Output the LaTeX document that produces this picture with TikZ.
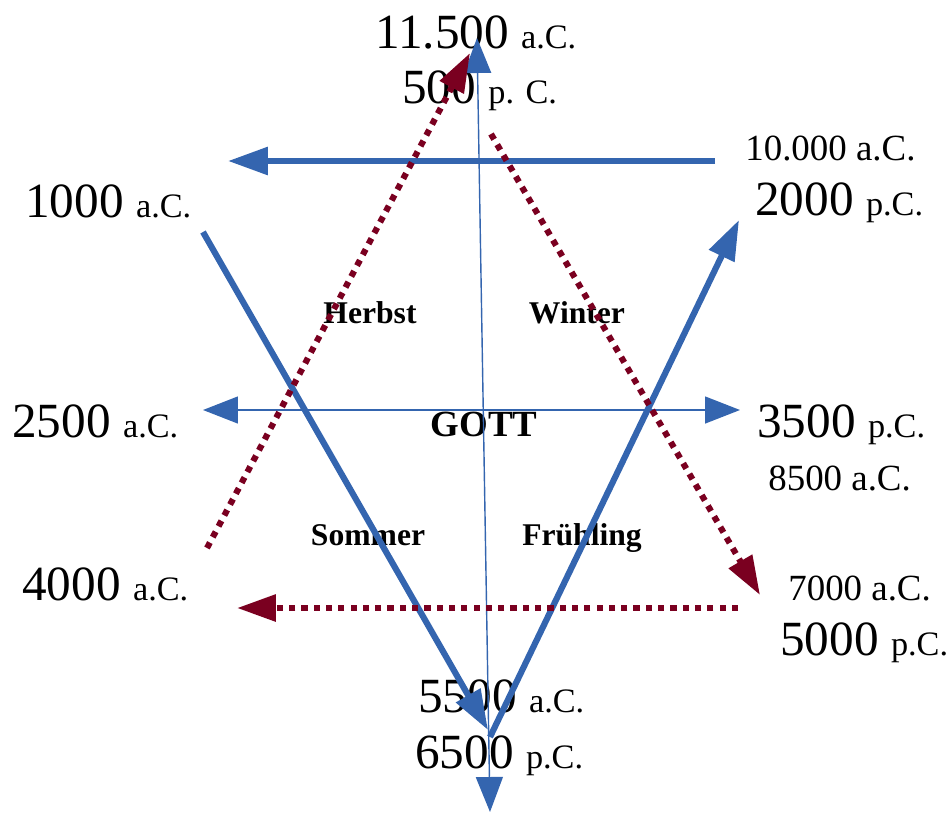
\documentclass[tikz,border=0pt]{standalone}
\usepackage{fontspec}
\setmainfont{Liberation Serif}
\usetikzlibrary{arrows.meta}
\definecolor{StarBlue}{RGB}{52,101,175}
\definecolor{StarRed}{RGB}{122,0,32}
\newcommand{\yearfont}{\fontsize{28}{30}\selectfont}
\newcommand{\erafont}{\fontsize{19.5}{21}\selectfont}
\newcommand{\minorfont}{\fontsize{21}{23}\selectfont}
\newcommand{\seasonfont}{\fontsize{18}{20}\selectfont\bfseries}
\newcommand{\centrefont}{\fontsize{21}{23}\selectfont\bfseries}

\begin{document}
\begin{tikzpicture}[x=0.02cm,y=-0.02cm,
  yearlbl/.style={font=\yearfont,anchor=base west,inner sep=0pt},
  minorlbl/.style={font=\minorfont,anchor=base west,inner sep=0pt},
  seasonlbl/.style={font=\seasonfont,anchor=base,inner sep=0pt},
  thinaxis/.style={StarBlue,line width=0.8pt,
    {Triangle[length=0.7cm,width=0.54cm]}-{Triangle[length=0.7cm,width=0.54cm]}},
  thickarrow/.style={StarBlue,line width=3.5pt,-{Triangle[length=0.8cm,width=0.54cm]}},
  dotarrow/.style={StarRed,line width=3.5pt,dash pattern=on 3.5pt off 3.5pt,
    -{Triangle[length=0.78cm,width=0.52cm]}}]
  \useasboundingbox (0,0) rectangle (949,815);

  % Dates: large year, smaller era (pixel grid, y down)
  \foreach \nm/\x/\y/\yr/\era in {
    top/375/48/11.500/a.C.,
    topb/402/103/500/p. C.,
    ne/755/215/2000/p.C.,
    nw/25/217/1000/a.C.,
    w/12/437/2500/a.C.,
    e/757/437/3500/p.C.,
    sw/22/600/4000/a.C.,
    se/780/655/5000/p.C.,
    bot/418/712/5500/a.C.,
    botb/415/768/6500/p.C.
  }{
    \node[yearlbl] (\nm) at (\x,\y) {\yr~{\erafont\era}};
  }
  % Dates set in one smaller size
  \foreach \nm/\x/\y/\txt in {
    nea/745/160/10.000 a.C.,
    ea/768/490/8500 a.C.,
    sea/788/600/7000 a.C.
  }{
    \node[minorlbl] (\nm) at (\x,\y) {\txt};
  }

  % Seasons and centre
  \node[seasonlbl] (herbst) at (370,323) {Herbst};
  \node[seasonlbl] (winter) at (577,323) {Winter};
  \node[seasonlbl] (sommer) at (368,545) {Sommer};
  \node[seasonlbl] (fruehling) at (582,545) {Frühling};
  \node[font=\centrefont,anchor=base,inner sep=0pt] (gott) at (484,436) {GOTT};

  % End points of the connectors
  \coordinate (vtop) at (477,38);
  \coordinate (vbot) at (490,812);
  \coordinate (hleft) at (203,410);
  \coordinate (hright) at (740,410);
  \coordinate (barR) at (715,161);
  \coordinate (barL) at (228,161);
  \coordinate (vlA) at (203,232);
  \coordinate (vlB) at (488,730);
  \coordinate (vrA) at (490,737);
  \coordinate (vrB) at (739,220);
  \coordinate (rlA) at (207,548);
  \coordinate (rlB) at (470,53);
  \coordinate (rrA) at (491,134);
  \coordinate (rrB) at (760,595);
  \coordinate (rbA) at (738,608);
  \coordinate (rbB) at (237,608);

  % Thin axes through the centre
  \draw[thinaxis] (vbot) -- (vtop);
  \draw[thinaxis] (hleft) -- (hright);

  % Blue triangle
  \draw[thickarrow] (barR) -- (barL);
  \draw[thickarrow] (vlA) -- (vlB);
  \draw[thickarrow] (vrA) -- (vrB);

  % Red dotted triangle
  \draw[dotarrow] (rlA) -- (rlB);
  \draw[dotarrow] (rrA) -- (rrB);
  \draw[dotarrow] (rbA) -- (rbB);
\end{tikzpicture}
\end{document}
